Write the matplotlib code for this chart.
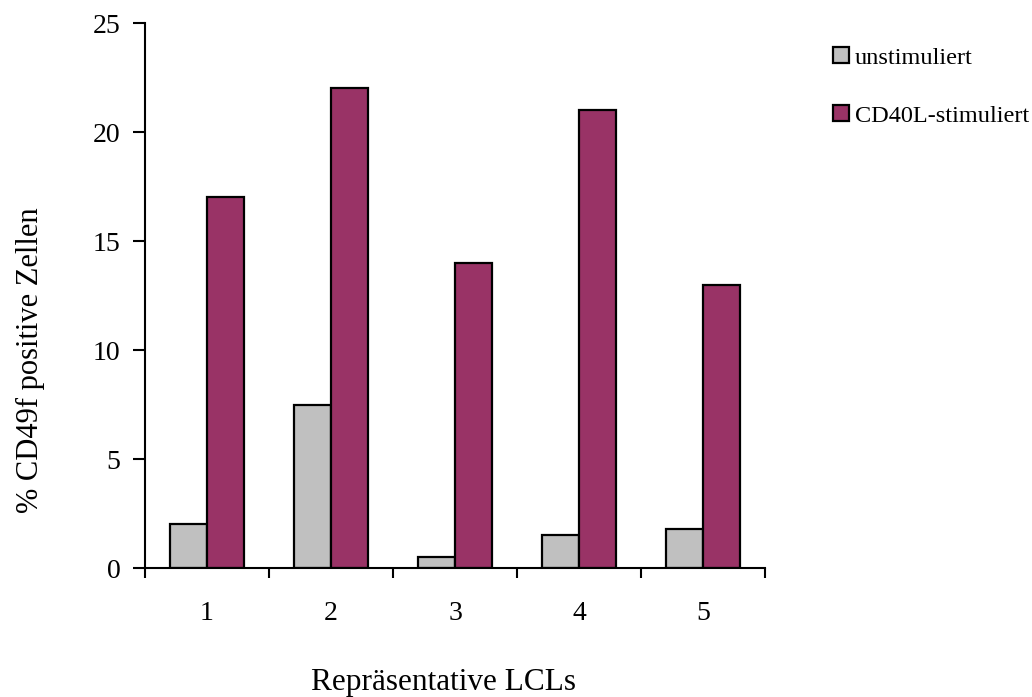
import matplotlib
matplotlib.use("Agg")
import matplotlib.pyplot as plt
import numpy as np
from matplotlib.patches import Patch

categories = ["1", "2", "3", "4", "5"]
unstimuliert = [2.0, 7.5, 0.5, 1.5, 1.8]
cd40l_stimuliert = [17, 22, 14, 21, 13]
series_names = ["unstimuliert", "CD40L-stimuliert"]

plt.rcParams["font.family"] = ["Liberation Serif", "DejaVu Serif"]

fig = plt.figure(figsize=(10.32, 6.97), dpi=100)
ax = fig.add_axes([0.1405, 0.185, 0.6008, 0.782])

x = np.arange(len(categories)) + 0.5
w = 0.3
ax.bar(x - w / 2, unstimuliert, width=w, color="#C0C0C0", edgecolor="black", linewidth=1.6)
ax.bar(x + w / 2, cd40l_stimuliert, width=w, color="#993366", edgecolor="black", linewidth=1.6)

ax.set_xlim(0, len(categories))
ax.set_ylim(0, 25)
ax.set_yticks([0, 5, 10, 15, 20, 25])
ax.tick_params(axis="y", direction="out", length=8.6, width=1.5, labelsize=20, pad=9)

# boundary ticks between groups, labels centred under each group
ax.set_xticks(np.arange(len(categories) + 1))
ax.set_xticklabels([])
ax.tick_params(axis="x", which="major", direction="out", length=7, width=1.5)
ax.set_xticks(x, minor=True)
ax.set_xticklabels(categories, minor=True)
ax.tick_params(axis="x", which="minor", length=0, labelsize=20, pad=24)

for s in ["top", "right"]:
    ax.spines[s].set_visible(False)
for s in ["left", "bottom"]:
    ax.spines[s].set_linewidth(1.5)

fig.text(443.5 / 1032, 1 - 690 / 697, "Repräsentative LCLs", ha="center", va="baseline", fontsize=22.5)
fig.text(30 / 1032, 1 - 360 / 697, "% CD49f positive Zellen", ha="center", va="center",
         rotation=90, fontsize=22)

handles = [Patch(facecolor="#C0C0C0", edgecolor="black", linewidth=1.6),
           Patch(facecolor="#993366", edgecolor="black", linewidth=1.6)]
fig.legend(handles, series_names, loc="upper left", bbox_to_anchor=(833 / 1032, 1 - 47 / 697),
           frameon=False, fontsize=17.5, handlelength=0.66, handleheight=0.66,
           handletextpad=0.25, labelspacing=1.49, borderaxespad=0, borderpad=0)

fig.savefig("out.png", dpi=100)
